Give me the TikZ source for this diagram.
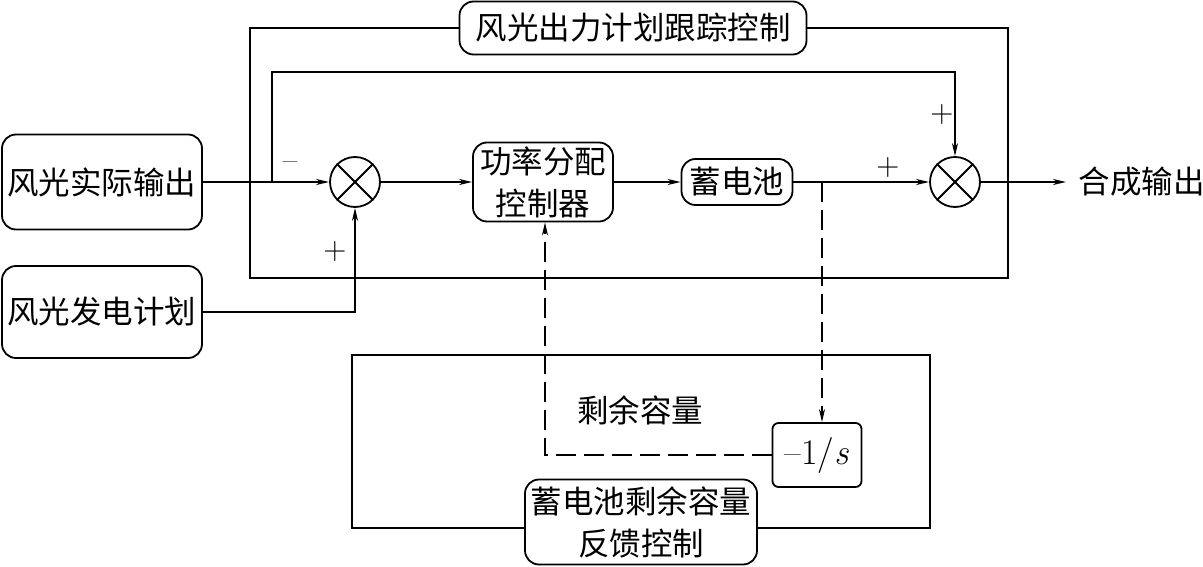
\documentclass[tikz,border=0pt]{standalone}
\usepackage{fontspec}
\newfontfamily\cjk{Noto Sans CJK SC}
\usetikzlibrary{arrows.meta}
\begin{document}
\begin{tikzpicture}[x=1pt,y=-1pt,line width=1.8pt,
  >={Stealth[length=13pt,width=6pt,inset=4pt]},
  blk/.style={draw,rounded corners=14pt,font=\cjk\fontsize{31.5}{42}\selectfont,align=center,inner sep=0pt},
  lbl/.style={font=\cjk\fontsize{31.5}{36}\selectfont,inner sep=0pt},
  sgn/.style={font=\fontsize{32}{36}\selectfont,inner sep=0pt},
  sum/.style={draw,circle,minimum size=50pt,inner sep=0pt},
  dsh/.style={dash pattern=on 20pt off 8pt}]
\useasboundingbox (0,0) rectangle (1203,567);
% frames
\draw (250,28) rectangle (1008,278);
\draw (352,355) rectangle (930,528);
% nodes
\node[blk,fill=white,minimum width=347pt,minimum height=53pt] (title) at (633,28) {风光出力计划跟踪控制};
\node[blk,minimum width=200pt,minimum height=95pt] (act) at (102,182) {风光实际输出};
\node[blk,minimum width=200pt,minimum height=92pt] (plan) at (102,312) {风光发电计划};
\node[sum] (s1) at (355,182) {};
\draw (s1.north west) -- (s1.south east) (s1.north east) -- (s1.south west);
\node[blk,minimum width=140pt,minimum height=79pt] (pc) at (543,182) {功率分配\\控制器};
\node[blk,minimum width=111pt,minimum height=46pt] (bat) at (737,182) {蓄电池};
\node[sum] (s2) at (955,182) {};
\draw (s2.north west) -- (s2.south east) (s2.north east) -- (s2.south west);
\node[lbl,anchor=west] (out) at (1078,182) {合成输出};
\node[blk,rounded corners=6pt,font=\fontsize{36}{40}\selectfont,minimum width=89pt,minimum height=64pt] (int) at (817,455) {–1/\textit{s}};
\node[lbl] (rem) at (640,410) {剩余容量};
\node[blk,fill=white,minimum width=232pt,minimum height=85pt] (fb) at (641,522) {蓄电池剩余容量\\反馈控制};
% signs
\node[sgn] (m1) at (290,166) {–};
\node[sgn] (p1) at (335,252) {+};
\node[sgn] (p2) at (942,115) {+};
\node[sgn] (p3) at (888,168) {+};
% connectors
\coordinate (j1) at (272,182);
\coordinate (d1) at (822,182);
\draw[->] (act.east) -- (s1.west);
\draw[->] (j1) -- ++(0,-110) -| (s2.north);
\draw[->] (plan.east) -| (s1.south);
\draw[->] (s1.east) -- (pc.west);
\draw[->] (pc.east) -- (bat.west);
\draw[->] (bat.east) -- (s2.west);
\draw[->] (s2.east) -- ([xshift=-12pt]out.west);
\draw[->,dsh] (d1) -- (d1 |- int.north);
\draw[->,dsh] (int.west) -| ([xshift=2pt]pc.south);
\end{tikzpicture}
\end{document}
